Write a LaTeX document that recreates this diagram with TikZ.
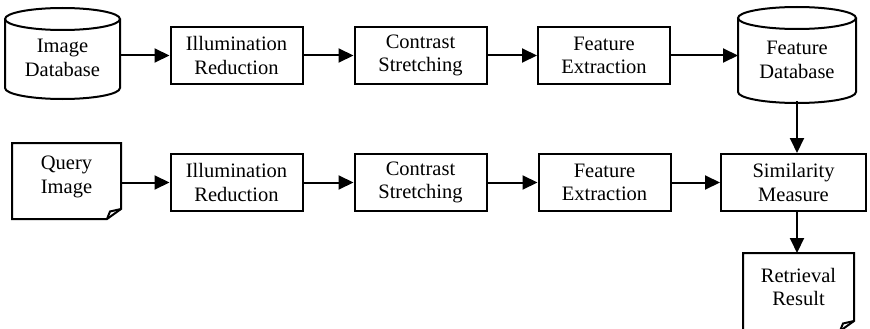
\documentclass[tikz,border=0pt]{standalone}
\usepackage{fontspec}
\setmainfont{Liberation Serif}
\usetikzlibrary{arrows.meta}
\begin{document}
\begin{tikzpicture}[x=1pt,y=-1pt,
  every path/.style={line width=2pt},
  txt/.style={font=\fontsize{20.5}{23.5}\selectfont, align=center, inner sep=0pt},
  procbox/.style={draw, line width=2pt, minimum width=132pt, minimum height=57pt, inner sep=0pt, font=\fontsize{20.5}{23.5}\selectfont, align=center},
  ghost/.style={draw=none, inner sep=0pt, outer sep=0pt},
  flow/.style={line width=2pt, -{Triangle[length=15pt,width=14pt]}}
]
\useasboundingbox (0,0) rectangle (870,329);

% ---- Image Database cylinder
\node[ghost, minimum width=115pt, minimum height=91pt] (idb) at (62.5,53.5) {};
\draw (62.5,19) ellipse [x radius=57.5pt, y radius=11pt];
\draw (5,19) -- (5,88) arc[start angle=180, end angle=360, x radius=57.5pt, y radius=11pt] -- (120,19);
\node[txt] (idbt) at (62.5,58) {Image\\Database};

% ---- Feature Database cylinder
\node[ghost, minimum width=118pt, minimum height=96pt] (fdb) at (797,55) {};
\draw (797,18) ellipse [x radius=59pt, y radius=11pt];
\draw (738,18) -- (738,92) arc[start angle=180, end angle=360, x radius=59pt, y radius=11pt] -- (856,18);
\node[txt] (fdbt) at (797,60) {Feature\\Database};

% ---- Row 1 boxes
\node[procbox] (ir1) at (236.5,55.5) {Illumination\\Reduction};
\node[procbox] (cs1) at (420.5,55.5) {Contrast\\Stretching};
\node[procbox] (fe1) at (604,55.5) {Feature\\Extraction};

% ---- Query Image document
\node[ghost, minimum width=109pt, minimum height=76pt] (qi) at (66.5,181) {};
\draw (12,143) -- (121,143) -- (121,209) -- (107,219) -- (12,219) -- cycle;
\draw (107,219) -- (110,211.5) -- (121,209);
\node[txt] (qit) at (66.5,177) {Query\\Image};

% ---- Row 2 boxes
\node[procbox] (ir2) at (236.5,182.5) {Illumination\\Reduction};
\node[procbox] (cs2) at (420.5,182.5) {Contrast\\Stretching};
\node[procbox] (fe2) at (604.5,182.5) {Feature\\Extraction};
\node[procbox, minimum width=145pt] (sm) at (793.5,182.5) {Similarity\\Measure};

% ---- Retrieval Result document
\node[ghost, minimum width=111pt, minimum height=78pt] (rr) at (798.5,292) {};
\draw (743,253) -- (854,253) -- (854,321) -- (840,331) -- (743,331) -- cycle;
\draw (840,331) -- (843,323.5) -- (854,321);
\node[txt] (rrt) at (798.5,287) {Retrieval\\Result};

% ---- Connectors
\draw[flow] (idb.east |- ir1.west) -- (ir1.west);
\draw[flow] (ir1) -- (cs1);
\draw[flow] (cs1) -- (fe1);
\draw[flow] (fe1.east) -- (fe1.east -| fdb.west);

\draw[flow] (qi.east |- ir2.west) -- (ir2.west);
\draw[flow] (ir2) -- (cs2);
\draw[flow] (cs2) -- (fe2);
\draw[flow] (fe2) -- (sm);

\draw[flow] ([yshift=2pt]fdb.south) -- (fdb.south |- sm.north);
\draw[flow] (sm.south -| fdb.south) -- (fdb.south |- rr.north);
\end{tikzpicture}
\end{document}
